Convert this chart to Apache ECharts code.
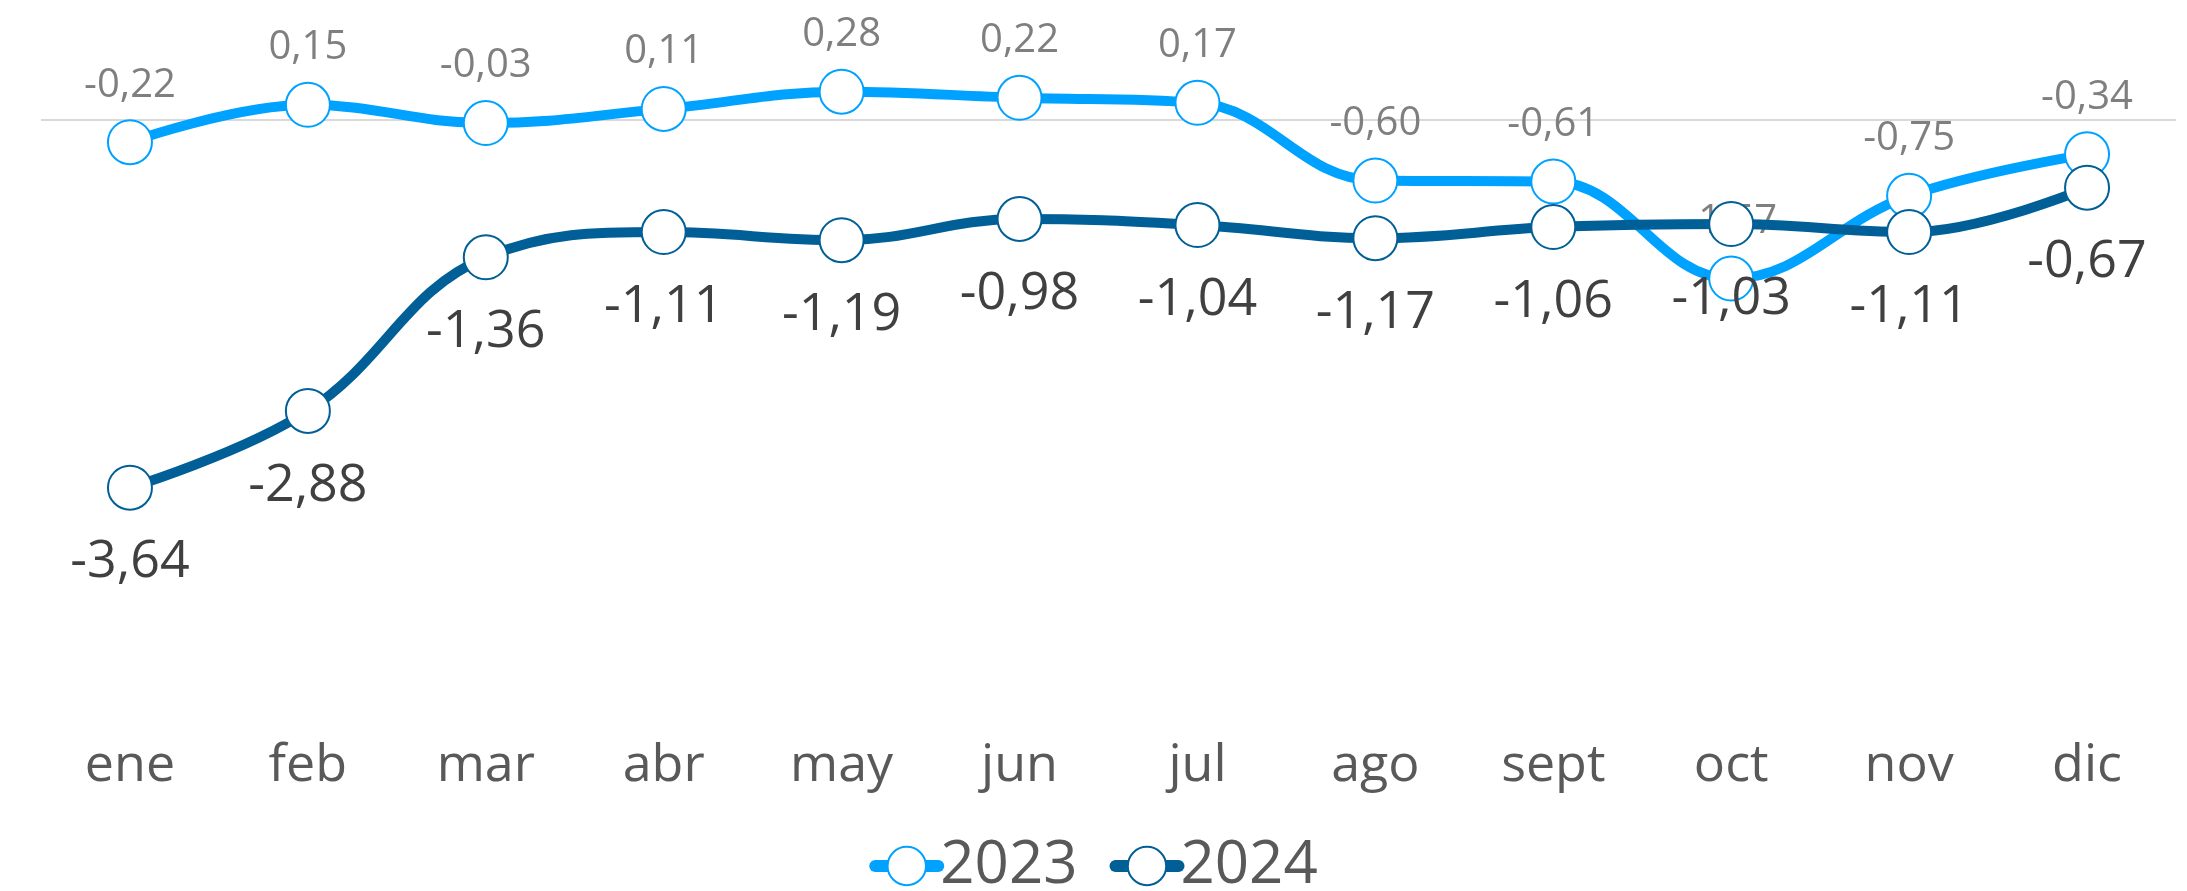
<!DOCTYPE html>
<html>
<head>
<meta charset="utf-8">
<script src="https://cdn.jsdelivr.net/npm/echarts@6/dist/echarts.min.js"></script>
<style>
html,body{margin:0;padding:0;background:#fff;}
#chart{width:2187px;height:891px;}
</style>
</head>
<body>
<div id="chart"></div>
<script>
const categories = ['ene','feb','mar','abr','may','jun','jul','ago','sept','oct','nov','dic'];
const values2023 = [-0.22, 0.15, -0.03, 0.11, 0.28, 0.22, 0.17, -0.60, -0.61, -1.57, -0.75, -0.34];
const values2024 = [-3.64, -2.88, -1.36, -1.11, -1.19, -0.98, -1.04, -1.17, -1.06, -1.03, -1.11, -0.67];
const seriesNames = ['2023', '2024'];

const FONT = 'Open Sans';
const C2023 = '#00A2FF';
const C2024 = '#005F96';
const fmt = v => v.toFixed(2).replace('.', ',');

const chart = echarts.init(document.getElementById('chart'));
chart.setOption({
  animation: false,
  backgroundColor: '#ffffff',
  grid: { left: 41, right: 11, top: 19, bottom: 165 },
  legend: {
    data: seriesNames,
    bottom: -10,
    left: 'center',
    itemWidth: 63,
    itemHeight: 48,
    itemGap: 32,
    lineStyle: { width: 12, cap: 'round' },
    textStyle: { fontFamily: FONT, fontSize: 60, color: '#595959', padding: [0, 0, 0, -3] }
  },
  xAxis: {
    type: 'category',
    data: categories,
    boundaryGap: true,
    axisLine: { show: false },
    axisTick: { show: false },
    axisLabel: { fontFamily: FONT, fontSize: 52, color: '#595959', margin: 14 }
  },
  yAxis: {
    type: 'value',
    min: -6,
    max: 1,
    axisLine: { show: false },
    axisTick: { show: false },
    axisLabel: { show: false },
    splitLine: { show: false }
  },
  series: [
    {
      name: seriesNames[0],
      type: 'line',
      data: values2023,
      smooth: 0.4,
      symbol: 'circle',
      symbolSize: 44,
      lineStyle: { color: C2023, width: 10 },
      itemStyle: { color: '#ffffff', borderColor: C2023, borderWidth: 2 },
      label: {
        show: true,
        position: 'top',
        distance: 14,
        fontFamily: FONT,
        fontSize: 40,
        color: '#7F7F7F',
        formatter: p => fmt(p.value)
      },
      markLine: {
        silent: true,
        symbol: 'none',
        label: { show: false },
        lineStyle: { color: '#D9D9D9', width: 2, type: 'solid' },
        data: [{ yAxis: 0 }],
        z: 1
      },
      z: 2
    },
    {
      name: seriesNames[1],
      type: 'line',
      data: values2024,
      smooth: 0.4,
      symbol: 'circle',
      symbolSize: 44,
      lineStyle: { color: C2024, width: 10 },
      itemStyle: { color: '#ffffff', borderColor: C2024, borderWidth: 2 },
      label: {
        show: true,
        position: 'bottom',
        distance: 26,
        fontFamily: FONT,
        fontSize: 52,
        color: '#404040',
        formatter: p => fmt(p.value)
      },
      z: 3
    }
  ]
});
</script>
</body>
</html>
